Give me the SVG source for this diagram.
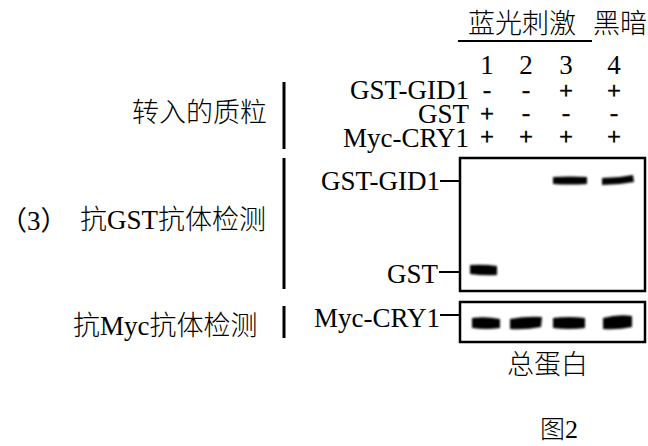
<svg xmlns="http://www.w3.org/2000/svg" width="648" height="446" viewBox="0 0 648 446">
<style>
.cjk{font-family:"Noto Sans CJK SC","Noto Sans",sans-serif;font-size:27px;font-weight:300;fill:#000}
.ser{font-family:"Liberation Serif","Noto Sans CJK SC",serif;font-size:27px;font-weight:normal;fill:#000}
.sgn{font-family:"Liberation Serif",serif;font-size:24px;fill:#000;text-anchor:middle;stroke:#000;stroke-width:0.7}
.end{text-anchor:end}
.bar{stroke:#000;stroke-width:3;fill:none}
.tick{stroke:#000;stroke-width:2;fill:none}
.gel{stroke:#000;stroke-width:2.5;fill:#fff}
.band{fill:#000;filter:url(#soft)}
</style>
<defs>
<filter id="soft" x="-20%" y="-50%" width="140%" height="200%"><feGaussianBlur stdDeviation="0.9"/></filter>
</defs>
<rect width="648" height="446" fill="#fff"/>

<g id="header">
<text class="cjk" x="468" y="33">蓝光刺激</text>
<text class="cjk" x="593" y="33">黑暗</text>
<line x1="458" y1="41" x2="592" y2="41" stroke="#000" stroke-width="2"/>
</g>

<g id="lanes">
<text class="ser" x="487" y="74" text-anchor="middle">1</text>
<text class="ser" x="526" y="74" text-anchor="middle">2</text>
<text class="ser" x="566" y="74" text-anchor="middle">3</text>
<text class="ser" x="614" y="74" text-anchor="middle">4</text>
</g>

<g id="plasmid-rows">
<text class="ser end" x="469" y="99">GST-GID1</text>
<text class="ser end" x="469" y="123">GST</text>
<text class="ser end" x="469" y="147">Myc-CRY1</text>
<text class="sgn" x="487" y="98">-</text>
<text class="sgn" x="526" y="98">-</text>
<text class="sgn" x="566" y="98">+</text>
<text class="sgn" x="614" y="98">+</text>
<text class="sgn" x="487" y="121">+</text>
<text class="sgn" x="526" y="121">-</text>
<text class="sgn" x="566" y="121">-</text>
<text class="sgn" x="614" y="121">-</text>
<text class="sgn" x="487" y="144">+</text>
<text class="sgn" x="526" y="144">+</text>
<text class="sgn" x="566" y="144">+</text>
<text class="sgn" x="614" y="144">+</text>
</g>

<g id="left-labels">
<text class="cjk" x="132" y="122">转入的质粒</text>
<text class="ser" x="0" y="230">（3）</text>
<text class="cjk" x="80" y="229">抗<tspan class="ser">GST</tspan>抗体检测</text>
<text class="cjk" x="73" y="335">抗<tspan class="ser">Myc</tspan>抗体检测</text>
<line class="bar" x1="284" y1="82" x2="284" y2="149"/>
<line class="bar" x1="284" y1="158" x2="284" y2="289"/>
<line class="bar" x1="284" y1="306" x2="284" y2="338"/>
</g>

<g id="gel-gst">
<rect class="gel" x="460" y="158" width="185" height="133"/>
<text class="ser end" x="440" y="190">GST-GID1</text>
<text class="ser end" x="438" y="283">GST</text>
<line class="tick" x1="440" y1="181" x2="460" y2="181"/>
<line class="tick" x1="439" y1="272" x2="460" y2="272"/>
<path class="band" d="M553,177 Q570,176 587,177 L587,184 Q570,185 553,184 Z"/>
<path class="band" d="M602,178 Q618,178 633,175 L634,182 Q618,185 602,185 Z"/>
<path class="band" d="M470,265 Q484,264 497,266 L497,275 Q484,276 470,274 Z"/>
</g>

<g id="gel-myc">
<rect class="gel" x="460" y="302" width="185" height="40"/>
<text class="ser end" x="440" y="327">Myc-CRY1</text>
<line class="tick" x1="440" y1="315" x2="460" y2="315"/>
<path class="band" d="M472,318 Q486,316 500,319 L500,328 Q486,330 472,328 Z"/>
<path class="band" d="M510,319 Q526,316 542,317 L541,327 Q526,330 510,329 Z"/>
<path class="band" d="M553,318 Q569,316 585,318 L585,328 Q569,330 553,328 Z"/>
<path class="band" d="M603,318 Q618,314 632,316 L632,327 Q618,330 603,329 Z"/>
</g>

<g id="captions">
<text class="cjk" x="507" y="374">总蛋白</text>
<text class="cjk" x="540" y="438" style="font-size:25px">图<tspan class="ser" style="font-size:26px">2</tspan></text>
</g>
</svg>
